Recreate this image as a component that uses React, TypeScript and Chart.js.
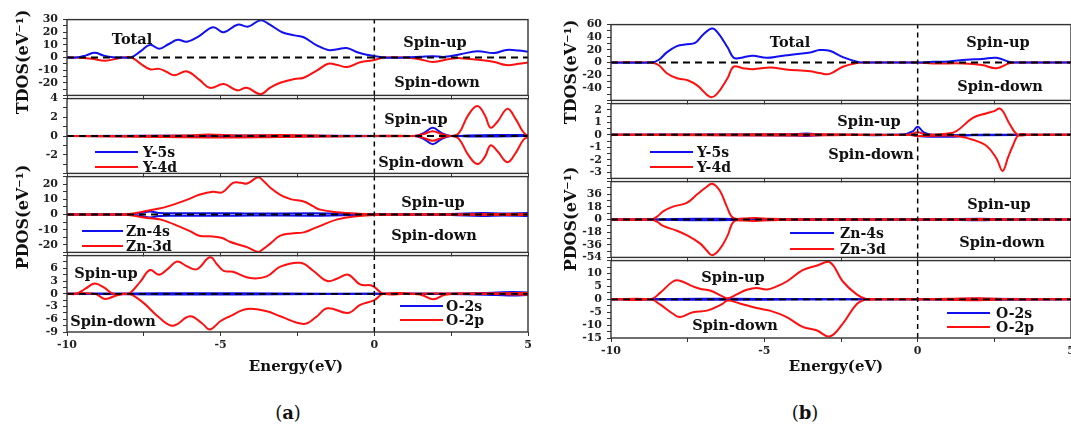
import React, { useEffect, useRef } from "react";
import { Chart, registerables } from "chart.js";
Chart.register(...registerables);

type Pt = [number, number];
const BLUE = "#1010f0";
const RED = "#ff1010";
const FONT = "'DejaVu Serif', serif";

// ---------- x axis ----------
const X_MIN = -10;
const X_MAX = 5;
const X_TICKS = [-10, -7.5, -5, -2.5, 0, 2.5, 5];
const X_LABELS = [-10, -5, 0, 5];

// ---------- panel (a) data ----------
const aTotUp: Pt[] = [[-10,0],[-9.7,0],[-9.4,1.5],[-9.1,3.7],[-8.8,1.5],[-8.5,0.2],[-8.2,0],[-7.9,0.3],[-7.6,5],[-7.3,10],[-7.0,7],[-6.7,10.5],[-6.4,14],[-6.1,12.5],[-5.7,17],[-5.25,24],[-4.9,20],[-4.45,26],[-4.1,24.5],[-3.7,29.5],[-3.4,26],[-3.0,20],[-2.6,17.5],[-2.3,16],[-1.9,10],[-1.5,6],[-1.2,6.5],[-0.9,7.5],[-0.5,3.7],[-0.2,2],[0.3,0],[1.0,0],[1.5,0.5],[1.9,1],[2.3,0.5],[2.8,2.5],[3.35,5],[3.9,3.5],[4.3,6],[4.7,5.5],[5,4.5]];
const aTotDn: Pt[] = [[-10,0],[-9.7,0],[-9.2,-1],[-8.75,-2.5],[-8.4,-1],[-8.2,0],[-7.9,0],[-7.6,-5],[-7.3,-9.3],[-7.0,-9],[-6.75,-11.5],[-6.5,-14],[-6.1,-11],[-5.7,-17.5],[-5.35,-24],[-4.9,-21],[-4.47,-26],[-4.15,-24],[-3.7,-29],[-3.4,-24],[-3.06,-20],[-2.6,-17],[-2.3,-16],[-1.85,-10],[-1.5,-5],[-1.2,-6],[-0.88,-7.5],[-0.46,-3.7],[0.0,-2],[0.3,0],[1.0,0],[1.5,-1.5],[1.9,-3.5],[2.5,-1],[2.8,-0.5],[3.45,-2],[3.9,-3.5],[4.3,-6],[4.7,-5],[5,-4]];

const aY4dUp: Pt[] = [[-10,0],[-6,0.05],[-5.4,0.15],[-4.5,0.05],[-3,0.1],[-1,0],[0,0],[1.3,0],[1.6,0.2],[1.9,0.5],[2.2,0.2],[2.5,0],[2.75,0.3],[3.05,2.2],[3.35,3.2],[3.6,2.2],[3.78,0.9],[4.0,1.5],[4.33,2.9],[4.6,1.8],[4.85,0.4],[5,0]];
const aY4dDn: Pt[] = [[-10,0],[-5.4,-0.15],[-3,-0.1],[0,0],[1.3,0],[1.6,-0.2],[1.9,-0.5],[2.2,-0.2],[2.5,0],[2.75,-0.3],[3.05,-2.0],[3.35,-3.0],[3.6,-2.2],[3.78,-1.0],[4.0,-1.6],[4.33,-2.8],[4.6,-1.8],[4.85,-0.4],[5,-0.1]];
const aY5sUp: Pt[] = [[-10,0],[1.3,0],[1.6,0.3],[1.9,0.87],[2.2,0.3],[2.5,0],[3,0.05],[4,0.1],[5,0.1]];
const aY5sDn: Pt[] = [[-10,0],[1.3,0],[1.6,-0.3],[1.9,-0.87],[2.2,-0.3],[2.5,0],[3,-0.05],[4,-0.05],[5,0]];

const aZn3dUp: Pt[] = [[-10,0],[-8.5,0],[-8.0,0.3],[-7.5,2],[-7.0,3.9],[-6.7,5.5],[-6.4,7.5],[-6.0,10.5],[-5.7,13],[-5.25,15],[-4.95,14.6],[-4.6,20.8],[-4.35,21],[-4.14,20.4],[-3.78,24.5],[-3.6,22],[-3.4,18],[-3.06,13],[-2.7,10],[-2.3,8.6],[-2.0,5.5],[-1.76,3.2],[-1.2,1.5],[-0.5,0.5],[0,0.2],[1,0.1],[3,0.2],[5,0.3]];
const aZn3dDn: Pt[] = [[-10,0],[-8.5,0],[-8.0,-0.3],[-7.5,-2],[-7.0,-3.2],[-6.7,-5],[-6.4,-7.5],[-6.0,-11],[-5.7,-14],[-5.25,-14.5],[-4.95,-15.5],[-4.7,-18],[-4.4,-20],[-4.14,-21.5],[-3.78,-24.7],[-3.6,-22.5],[-3.4,-19.4],[-3.06,-14],[-2.7,-12.5],[-2.3,-11.8],[-2.0,-9.5],[-1.76,-7.5],[-1.2,-3.2],[-0.5,-1],[0,-0.3],[1,-0.1],[3,-0.2],[5,-0.3]];
const aZn4sUp: Pt[] = [[-10,0],[-8,0],[-7.6,1],[-7.3,2],[-7.0,1],[-6.5,0.8],[-5,0.9],[-4,0.6],[-2,0.8],[-1,0.5],[0,0.2],[1,0.1],[2.5,0.3],[3.5,1],[4.2,0.6],[5,1]];
const aZn4sDn: Pt[] = [[-10,0],[-8,0],[-7.6,-1],[-7.3,-2],[-7.0,-1],[-6.5,-0.8],[-5,-0.9],[-4,-0.6],[-2,-0.8],[-1,-0.5],[0,-0.2],[1,-0.1],[2.5,-0.3],[3.5,-1],[4.2,-0.6],[5,-1]];

const aO2pUp: Pt[] = [[-10,0],[-9.7,0],[-9.4,1.2],[-9.1,2.4],[-8.8,1.5],[-8.5,0],[-8.2,0],[-7.95,0.2],[-7.6,3],[-7.3,5.6],[-7.0,4.5],[-6.7,6],[-6.42,7.6],[-6.1,6.5],[-5.77,5.8],[-5.35,8.6],[-5.1,6.8],[-4.9,5.4],[-4.6,5.2],[-4.04,3.7],[-3.5,4.1],[-3.06,6.4],[-2.4,7.3],[-2.0,5.5],[-1.53,3],[-1.2,3.6],[-0.85,4.5],[-0.46,2.2],[-0.07,1.9],[0.3,0],[1,0],[3,0.1],[5,0.2]];
const aO2pDn: Pt[] = [[-10,0],[-9.1,0],[-8.76,-1.2],[-8.4,-0.4],[-8.1,0],[-7.9,-0.2],[-7.5,-2.2],[-7.0,-5.6],[-6.55,-7.5],[-6.0,-5.3],[-5.6,-7],[-5.35,-8.4],[-5.0,-6.4],[-4.7,-5.3],[-4.14,-3.6],[-3.5,-4.1],[-3.06,-5.3],[-2.3,-7.1],[-1.9,-5.5],[-1.53,-3.4],[-0.85,-4.5],[-0.46,-2.6],[0.0,-1.5],[0.3,0],[1.5,-0.2],[1.92,-1.3],[2.3,-0.2],[3,0],[5,-0.2]];
const aO2sUp: Pt[] = [[-10,0],[-8,0.1],[-6,0.15],[-3,0.1],[0,0],[3,0.1],[4,0.3],[4.5,0.4],[5,0.3]];
const aO2sDn: Pt[] = [[-10,0],[-8,-0.1],[-6,-0.15],[-3,-0.1],[0,0],[3,-0.1],[4,-0.3],[4.5,-0.4],[5,-0.3]];

// ---------- panel (b) data ----------
const bTotUp: Pt[] = [[-10,0],[-8.7,0],[-8.45,4],[-8.18,16],[-7.85,26],[-7.53,29],[-7.26,31],[-7.0,44],[-6.7,54],[-6.5,46],[-6.2,24],[-6.0,7.5],[-5.8,7],[-5.57,9.5],[-5.37,10.5],[-4.92,7.5],[-4.5,10],[-4.17,12],[-3.5,16],[-3.2,19.7],[-2.87,18.6],[-2.44,8.5],[-1.95,1],[-1.7,0],[-1.4,0],[0,0],[0.5,1],[1.0,1.5],[1.6,4.5],[2.1,5.5],[2.57,7.5],[3.0,1],[3.3,0],[3.6,0],[5,0]];
const bTotDn: Pt[] = [[-10,0],[-8.7,0],[-8.45,-4],[-8.18,-17],[-7.85,-25],[-7.5,-28],[-7.17,-37],[-6.77,-54.5],[-6.55,-50],[-6.2,-25],[-6.0,-6.5],[-5.7,-9],[-5.37,-10.6],[-4.8,-8],[-4.3,-11],[-3.5,-14],[-3.2,-16.7],[-2.87,-18],[-2.44,-6.7],[-2.0,-1],[-1.7,0],[-1.4,0],[0,0],[0.5,-1.5],[1.5,-1.5],[2.1,-4],[2.57,-9],[3.0,-1],[3.3,0],[3.6,0],[5,0]];

const bY4dUp: Pt[] = [[-10,0],[-6,0.03],[-4,0.05],[-2,0.03],[-0.3,0],[0,0.2],[0.3,0],[1.0,0.1],[1.27,0.3],[1.8,1.35],[2.25,1.73],[2.5,1.9],[2.67,2.1],[2.8,1.8],[3.0,0.86],[3.26,0],[3.6,0],[5,0]];
const bY4dDn: Pt[] = [[-10,0],[-4,-0.05],[-0.3,0],[0,-0.1],[1.0,-0.05],[1.27,-0.1],[1.8,-0.4],[2.25,-0.9],[2.57,-1.9],[2.77,-2.9],[2.95,-1.8],[3.1,-0.9],[3.3,0],[3.6,0],[5,0]];
const bY5sUp: Pt[] = [[-10,0],[-4,0.05],[-3.6,0.1],[-3.2,0.03],[-0.5,0],[-0.15,0.3],[0,0.65],[0.2,0.2],[0.5,0],[5,0]];
const bY5sDn: Pt[] = [[-10,0],[-4,-0.05],[-3.6,-0.1],[-3.2,-0.03],[-0.3,0],[0,-0.1],[0.4,-0.15],[1.2,-0.15],[1.6,-0.05],[2,0],[5,0]];

const bZn3dUp: Pt[] = [[-10,0],[-8.7,0],[-8.5,4],[-8.3,11.5],[-7.98,18.3],[-7.53,23.8],[-7.17,36.7],[-6.9,46],[-6.7,51],[-6.45,41],[-6.22,18],[-6.02,2.3],[-5.7,1.5],[-5.3,2],[-4.8,1],[-4,0.5],[-2,0.3],[0,0],[1.5,0.5],[2.5,0.5],[3,0],[5,0]];
const bZn3dDn: Pt[] = [[-10,0],[-8.7,0],[-8.5,-3],[-8.3,-9],[-7.85,-16],[-7.5,-23],[-7.1,-34],[-6.9,-43],[-6.7,-51],[-6.45,-42],[-6.2,-23],[-6.0,-3],[-5.7,-1.5],[-5.3,-2],[-4.8,-1],[-4,-0.5],[-2,-0.3],[0,0],[1.5,-0.5],[2.5,-0.5],[3,0],[5,0]];
const bZn4sUp: Pt[] = [[-10,0],[-8.6,0],[-8,0.8],[-7,1],[-6,0.8],[-5,0.5],[-3,0.3],[0,0],[1,0.5],[2,1],[2.6,0.5],[3,0],[5,0]];
const bZn4sDn: Pt[] = [[-10,0],[-8.6,0],[-8,-0.8],[-7,-1],[-6,-0.8],[-5,-0.5],[-3,-0.3],[0,0],[1,-0.5],[2,-1],[2.6,-0.5],[3,0],[5,0]];

const bO2pUp: Pt[] = [[-10,0],[-8.7,0],[-8.4,2.5],[-7.98,6.9],[-7.75,7.2],[-7.33,5],[-7.1,4.1],[-6.77,3.4],[-6.38,1.2],[-6.2,0.4],[-5.9,1.9],[-5.57,3.7],[-5.25,4.4],[-4.92,3.8],[-4.6,5],[-4.27,6.9],[-3.75,11.3],[-3.3,13],[-2.87,14.4],[-2.44,6.9],[-1.99,1.9],[-1.66,0],[-1.3,0],[0,0],[1,0.2],[2,0.4],[3,0],[5,0]];
const bO2pDn: Pt[] = [[-10,0],[-8.7,0],[-8.4,-2],[-7.98,-5.6],[-7.75,-6.9],[-7.33,-5],[-6.87,-4.4],[-6.38,-1.9],[-6.2,-0.5],[-5.8,-1.6],[-5.25,-3.4],[-4.82,-4.4],[-4.27,-6.9],[-3.75,-10.7],[-3.3,-12],[-2.87,-14.4],[-2.44,-9.4],[-1.99,-1.9],[-1.66,0],[-1.3,0],[0,0],[1,-0.2],[2,-0.4],[3,0],[5,0]];
const bO2sUp: Pt[] = [[-10,0],[-8,0.15],[-6,0.2],[-4,0.1],[0,0],[2,0.2],[5,0]];
const bO2sDn: Pt[] = [[-10,0],[-8,-0.15],[-6,-0.2],[-4,-0.1],[0,0],[2,-0.2],[5,0]];

// ---------- tick label lists ----------
const aTotLabels = [30, 20, 10, 0, -10, -20];
const aYLabels = [4, 2, 0, -2];
const aZnLabels = [20, 10, 0, -10, -20];
const aOLabels = [6, 3, 0, -3, -6, -9];
const bTotLabels = [60, 40, 20, 0, -20, -40];
const bYLabels = [2, 1, 0, -1, -2, -3];
const bZnLabels = [36, 18, 0, -18, -36, -54];
const bOLabels = [10, 5, 0, -5, -10, -15];

interface SubCfg {
  L: number; T: number; R: number; B: number;
  yMin: number; yMax: number; yStep: number;
  labels: number[];
  bottom: boolean;
  series: [Pt[], string][];
}

const A_L = 67, A_R = 528;
const B_L = 611, B_R = 1071;

const SUBS: SubCfg[] = [
  { L: A_L, R: A_R, T: 18, B: 97, yMin: -30, yMax: 30, yStep: 5, labels: aTotLabels, bottom: false, series: [[aTotUp, BLUE], [aTotDn, RED]] },
  { L: A_L, R: A_R, T: 97, B: 175, yMin: -4, yMax: 4, yStep: 1, labels: aYLabels, bottom: false, series: [[aY4dUp, RED], [aY4dDn, RED], [aY5sUp, BLUE], [aY5sDn, BLUE]] },
  { L: A_L, R: A_R, T: 175, B: 254, yMin: -25, yMax: 25, yStep: 5, labels: aZnLabels, bottom: false, series: [[aZn3dUp, RED], [aZn3dDn, RED], [aZn4sUp, BLUE], [aZn4sDn, BLUE]] },
  { L: A_L, R: A_R, T: 254, B: 332, yMin: -9, yMax: 9, yStep: 1.5, labels: aOLabels, bottom: true, series: [[aO2pUp, RED], [aO2pDn, RED], [aO2sUp, BLUE], [aO2sDn, BLUE]] },
  { L: B_L, R: B_R, T: 23, B: 102, yMin: -60, yMax: 60, yStep: 10, labels: bTotLabels, bottom: false, series: [[bTotUp, BLUE], [bTotDn, RED]] },
  { L: B_L, R: B_R, T: 102, B: 180, yMin: -3.5, yMax: 2.5, yStep: 0.5, labels: bYLabels, bottom: false, series: [[bY4dUp, RED], [bY4dDn, RED], [bY5sUp, BLUE], [bY5sDn, BLUE]] },
  { L: B_L, R: B_R, T: 180, B: 259, yMin: -54, yMax: 54, yStep: 9, labels: bZnLabels, bottom: false, series: [[bZn3dUp, RED], [bZn3dDn, RED], [bZn4sUp, BLUE], [bZn4sDn, BLUE]] },
  { L: B_L, R: B_R, T: 259, B: 338, yMin: -15, yMax: 15, yStep: 2.5, labels: bOLabels, bottom: true, series: [[bO2pUp, RED], [bO2pDn, RED], [bO2sUp, BLUE], [bO2sDn, BLUE]] },
];

// ---------- text annotations (center positions) ----------
const NOTES: [string, number, number][] = [
  ["Total", 132, 39], ["Spin-up", 435, 42], ["Spin-down", 437, 82],
  ["Spin-up", 416, 119], ["Spin-down", 421, 162],
  ["Spin-up", 433, 202], ["Spin-down", 434, 235],
  ["Spin-up", 106, 273], ["Spin-down", 113, 321],
  ["Total", 790, 42], ["Spin-up", 998, 42], ["Spin-down", 1000, 86],
  ["Spin-up", 869, 121], ["Spin-down", 871, 154],
  ["Spin-up", 999, 204], ["Spin-down", 1002, 242],
  ["Spin-up", 733, 277], ["Spin-down", 735, 325],
];

// legend: [text, color, lineX1, lineX2, y, textX]
const LEGENDS: [string, string, number, number, number, number][] = [
  ["Y-5s", BLUE, 95, 138, 152, 143], ["Y-4d", RED, 95, 138, 167, 143],
  ["Zn-4s", BLUE, 82, 123, 231, 126], ["Zn-3d", RED, 82, 123, 246, 126],
  ["O-2s", BLUE, 400, 443, 306, 446], ["O-2p", RED, 400, 443, 320, 446],
  ["Y-5s", BLUE, 650, 693, 152, 697], ["Y-4d", RED, 650, 693, 167, 697],
  ["Zn-4s", BLUE, 790, 834, 233, 840], ["Zn-3d", RED, 790, 834, 249, 840],
  ["O-2s", BLUE, 947, 990, 313, 996], ["O-2p", RED, 947, 990, 327, 996],
];

const PADL = 45, PADT = 10, PADR = 10;

const framePlugin = {
  id: "frame",
  afterDatasetsDraw(chart: any) {
    const { ctx, chartArea: a } = chart;
    ctx.save();
    ctx.strokeStyle = "#333";
    ctx.lineWidth = 1.4;
    ctx.strokeRect(a.left, a.top, a.right - a.left, a.bottom - a.top);
    ctx.restore();
  },
};

function yTickValues(min: number, max: number, step: number) {
  const out: { value: number }[] = [];
  const n = Math.round((max - min) / step);
  for (let i = 0; i <= n; i++) out.push({ value: +(min + i * step).toFixed(6) });
  return out;
}

function SubPlot({ cfg }: { cfg: SubCfg }) {
  const ref = useRef<HTMLCanvasElement>(null);
  const xH = cfg.bottom ? 26 : 10;
  const w = cfg.R - cfg.L + PADL + PADR;
  const h = cfg.B - cfg.T + PADT + xH;
  useEffect(() => {
    const datasets: any[] = [
      { data: [{ x: X_MIN, y: 0 }, { x: X_MAX, y: 0 }], borderColor: "#000", borderDash: [7, 5], borderWidth: 1.8, pointRadius: 0, tension: 0 },
      { data: [{ x: 0, y: cfg.yMin }, { x: 0, y: cfg.yMax }], borderColor: "#000", borderDash: [5, 4], borderWidth: 1.5, pointRadius: 0, tension: 0 },
      ...cfg.series.map(([pts, color]) => ({
        data: pts.map(([x, y]) => ({ x, y })),
        borderColor: color,
        borderWidth: 2,
        pointRadius: 0,
        tension: 0.4,
      })),
    ];
    const tickFont = { family: FONT, weight: "bold" as const, size: 11 };
    const chart = new Chart(ref.current as HTMLCanvasElement, {
      type: "line",
      data: { datasets },
      plugins: [framePlugin],
      options: {
        responsive: false,
        animation: false,
        events: [],
        layout: { padding: { left: 0, top: PADT, right: PADR, bottom: 0 } },
        plugins: { legend: { display: false }, tooltip: { enabled: false } },
        scales: {
          x: {
            type: "linear",
            min: X_MIN,
            max: X_MAX,
            afterFit: (s: any) => { s.height = xH; },
            afterBuildTicks: (s: any) => { s.ticks = X_TICKS.map((v) => ({ value: v })); },
            ticks: {
              autoSkip: false,
              maxRotation: 0,
              padding: 3,
              color: "#222",
              font: tickFont,
              callback: (v: any) => (cfg.bottom && X_LABELS.includes(Number(v)) ? String(v) : ""),
            },
            grid: { drawOnChartArea: false, drawTicks: true, tickLength: 4, color: "#333" },
            border: { display: false },
          },
          y: {
            type: "linear",
            min: cfg.yMin,
            max: cfg.yMax,
            afterFit: (s: any) => { s.width = PADL; },
            afterBuildTicks: (s: any) => { s.ticks = yTickValues(cfg.yMin, cfg.yMax, cfg.yStep); },
            ticks: {
              autoSkip: false,
              padding: 5,
              color: "#222",
              font: tickFont,
              callback: (v: any) => (cfg.labels.some((l) => Math.abs(l - Number(v)) < 1e-6) ? String(v) : ""),
            },
            grid: { drawOnChartArea: false, drawTicks: true, tickLength: 4, color: "#333" },
            border: { display: false },
          },
        },
      } as any,
    });
    return () => chart.destroy();
  }, []);
  return (
    <canvas
      ref={ref}
      width={w}
      height={h}
      style={{ position: "absolute", left: cfg.L - PADL, top: cfg.T - PADT, width: w, height: h }}
    />
  );
}

const centered = (x: number, y: number): React.CSSProperties => ({
  position: "absolute",
  left: x,
  top: y,
  transform: "translate(-50%, -50%)",
  whiteSpace: "nowrap",
  lineHeight: 1,
});

function YTitle({ text, x, y }: { text: string; x: number; y: number }) {
  return (
    <div style={{ ...centered(x, y), transform: "translate(-50%, -50%) rotate(-90deg)", fontSize: 16, fontWeight: "bold", color: "#111" }}>
      {text}
    </div>
  );
}

export default function App() {
  return (
    <div style={{ position: "fixed", left: 0, top: 0, width: 1071, height: 427, overflow: "hidden", background: "#fff", fontFamily: FONT }}>
      {SUBS.map((s, i) => (
        <SubPlot key={i} cfg={s} />
      ))}
      <YTitle text="TDOS(eV⁻¹)" x={23} y={62} />
      <YTitle text="PDOS(eV⁻¹)" x={23} y={217} />
      <YTitle text="TDOS(eV⁻¹)" x={571} y={72} />
      <YTitle text="PDOS(eV⁻¹)" x={571} y={219} />
      {NOTES.map(([t, x, y], i) => (
        <div key={"n" + i} style={{ ...centered(x, y), fontSize: 14.5, fontWeight: "bold", color: "#111" }}>{t}</div>
      ))}
      {LEGENDS.map(([t, c, x1, x2, y, tx], i) => (
        <React.Fragment key={"l" + i}>
          <div style={{ position: "absolute", left: x1, top: y - 1, width: x2 - x1, height: 2, background: c }} />
          <div style={{ position: "absolute", left: tx, top: y, transform: "translateY(-50%)", fontSize: 14, fontWeight: "bold", color: "#111", lineHeight: 1, whiteSpace: "nowrap" }}>{t}</div>
        </React.Fragment>
      ))}
      <div style={{ ...centered(296, 366), fontSize: 15, fontWeight: "bold", color: "#111" }}>Energy(eV)</div>
      <div style={{ ...centered(836, 366), fontSize: 15, fontWeight: "bold", color: "#111" }}>Energy(eV)</div>
      <div style={{ ...centered(288, 413), fontSize: 18, color: "#111" }}>(<b>a</b>)</div>
      <div style={{ ...centered(805, 413), fontSize: 18, color: "#111" }}>(<b>b</b>)</div>
    </div>
  );
}
